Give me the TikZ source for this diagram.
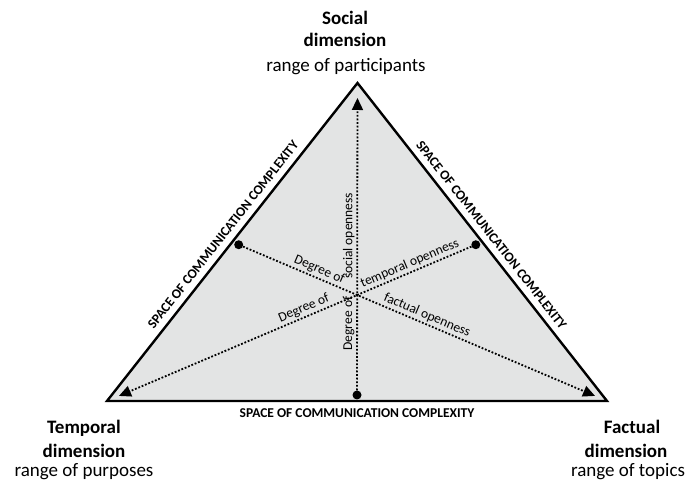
\documentclass[tikz,border=0pt]{standalone}
\usepackage{fontspec}
\setmainfont{Carlito}
\usetikzlibrary{arrows.meta, calc, positioning}
\definecolor{color_area}{RGB}{227,228,228}

\begin{document}
\begin{tikzpicture}[x=1pt,y=-1pt,
	side/.style={line width=2.4pt, line join=miter},
	openness/.style={line width=1.8pt, dash pattern=on 1.8pt off 1.8pt},
	tip/.style={-{Triangle[length=12pt,width=11pt]}},
	dot/.style={circle, fill=black, inner sep=0pt, minimum size=9pt},
	space_label/.style={font=\bfseries\fontsize{13.5}{15}\selectfont, inner sep=0pt, sloped},
	degree_label/.style={font=\fontsize{13.5}{15}\selectfont, inner sep=2.5pt, sloped},
	dim_name/.style={font=\bfseries\fontsize{19}{22}\selectfont, inner sep=0pt, anchor=base},
	dim_range/.style={font=\fontsize{19}{22}\selectfont, inner sep=0pt, anchor=base}]

	\useasboundingbox (0,0) rectangle (689,481);

	% corners of the triangle
	\coordinate (social) at (357.5,83);
	\coordinate (temporal) at (107,401);
	\coordinate (factual) at (607,401);
	\coordinate (center) at (357.2,295);
	\coordinate (mid_st) at ($(social)!0.5!(temporal)$);
	\coordinate (mid_sf) at ($(social)!0.5!(factual)$);
	\coordinate (mid_tf) at ($(temporal)!0.5!(factual)$);

	% SPACE OF COMMUNICATION COMPLEXITY
	\draw[side, fill=color_area] (social) -- (factual) -- (temporal) -- cycle;
	\path (temporal) -- (social) node[midway, above=7pt, space_label] {SPACE OF COMMUNICATION COMPLEXITY};
	\path (social) -- (factual) node[midway, above=7pt, space_label] {SPACE OF COMMUNICATION COMPLEXITY};
	\path (temporal) -- (factual) node[midway, below=7pt, space_label] {SPACE OF COMMUNICATION COMPLEXITY};

	% DEGREES OF OPENNESS
	\node[dot] (dot_social) at ($(mid_tf)!6pt!(social)$) {};
	\node[dot] (dot_factual) at ($(mid_st)!7pt!(factual)$) {};
	\node[dot] (dot_temporal) at ($(mid_sf)!7pt!(temporal)$) {};
	\coordinate (tip_social) at ($(social)!15pt!(mid_tf)$);
	\coordinate (tip_factual) at ($(factual)!13pt!(mid_st)$);
	\coordinate (tip_temporal) at ($(temporal)!13pt!(mid_sf)$);

	\draw[openness, tip] (dot_social) -- (tip_social);
	\draw[openness, tip] (dot_factual) -- (tip_factual);
	\draw[openness, tip] (dot_temporal) -- (tip_temporal);

	\path (dot_social) -- (center) node[pos=0.70, above, degree_label] {Degree of};
	\path (center) -- (tip_social) node[pos=0.30, above, degree_label] {social openness};
	\path (dot_factual) -- (center) node[pos=0.64, above, degree_label] {Degree of};
	\path (center) -- (tip_factual) node[pos=0.28, above, degree_label] {factual openness};
	\path (tip_temporal) -- (center) node[pos=0.79, above, degree_label] {Degree of};
	\path (center) -- (dot_temporal) node[pos=0.49, above, degree_label] {temporal openness};

	% DIMENSIONS
	\node[dim_name] (social_name) at (345,25) {Social};
	\node[dim_name] (social_dim) at (345,47) {dimension};
	\node[dim_range] (social_range) at (346,72) {range of participants};
	\node[dim_name] (temporal_name) at (84,433) {Temporal};
	\node[dim_name] (temporal_dim) at (84,457.5) {dimension};
	\node[dim_range] (temporal_range) at (84,476.5) {range of purposes};
	\node[dim_name] (factual_name) at (632,433) {Factual};
	\node[dim_name] (factual_dim) at (626,457.5) {dimension};
	\node[dim_range] (factual_range) at (628,476.5) {range of topics};
\end{tikzpicture}
\end{document}
